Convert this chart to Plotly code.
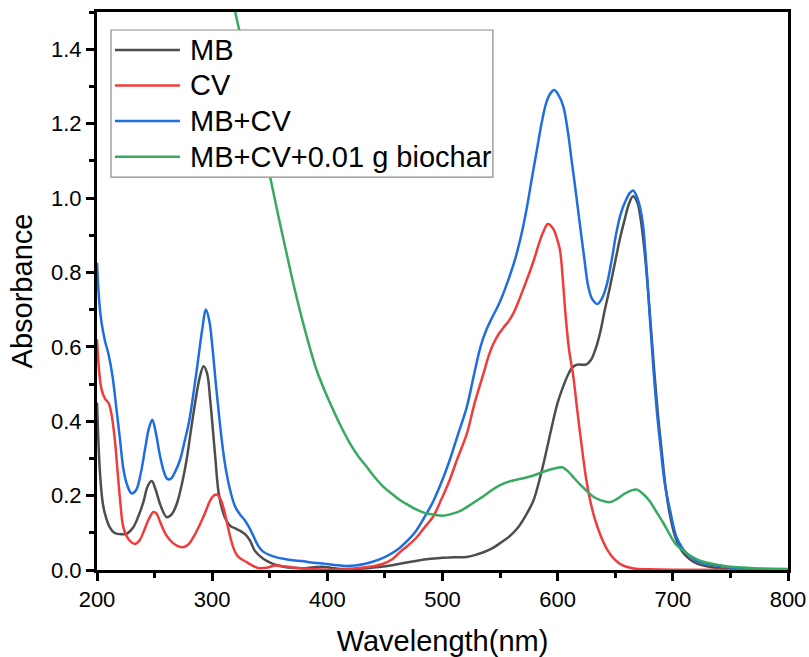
import plotly.graph_objects as go

# UV-Vis absorbance spectra (wavelength in nm, absorbance a.u.)
mb_wl = [200, 202.6, 205, 207, 211, 215, 221, 226, 231.5, 236, 240.5, 244, 247.5, 251, 255,
         260.5, 265, 269.5, 274, 278, 282, 285.5, 289, 292.5, 295.5, 298.5, 302.5, 305.5,
         308.5, 312, 316, 320, 324, 329, 333, 337, 342, 347, 354, 362, 370, 380, 390, 396,
         403, 413, 425, 435, 445, 455, 465, 478, 490, 500, 510, 521, 528, 535, 543, 550, 558,
         565, 572, 579, 584, 588, 592, 596, 600, 605, 609, 613, 617, 621, 625, 629, 633, 637,
         641, 645, 650, 654, 658, 662, 665.5, 669, 672, 675, 678, 681, 684, 687, 690, 694,
         698, 702, 707, 712, 718, 725, 733, 742, 755, 770, 800]
mb_abs = [0.45, 0.26, 0.18, 0.15, 0.115, 0.10, 0.096, 0.098, 0.115, 0.145, 0.185, 0.225, 0.239,
          0.215, 0.175, 0.142, 0.15, 0.18, 0.235, 0.30, 0.385, 0.455, 0.515, 0.548, 0.53, 0.45,
          0.31, 0.21, 0.165, 0.135, 0.118, 0.112, 0.106, 0.095, 0.078, 0.052, 0.036, 0.025,
          0.015, 0.009, 0.006, 0.005, 0.008, 0.009, 0.006, 0.003, 0.003, 0.005, 0.008, 0.012,
          0.018, 0.025, 0.03, 0.033, 0.034, 0.035, 0.04, 0.047, 0.058, 0.072, 0.09, 0.112,
          0.145, 0.187, 0.24, 0.29, 0.345, 0.40, 0.45, 0.495, 0.525, 0.545, 0.552, 0.552,
          0.553, 0.565, 0.595, 0.64, 0.70, 0.755, 0.83, 0.89, 0.94, 0.985, 1.005, 0.99, 0.945,
          0.87, 0.77, 0.65, 0.53, 0.42, 0.33, 0.215, 0.14, 0.09, 0.055, 0.036, 0.022, 0.013,
          0.008, 0.004, 0.002, 0.001, 0.0]

cv_wl = [200, 202, 204, 207, 210, 212.5, 215.5, 218, 220, 222.5, 225, 229, 233, 237, 241, 245,
         249, 251.5, 255, 259, 263.5, 268, 274, 279, 284, 289, 294, 298, 301.5, 304, 307, 310,
         313, 316, 319, 322, 326, 330, 335, 341, 347, 355, 362, 370, 380, 390, 400, 416, 430,
         440, 448, 456, 463, 470, 477, 484, 492, 499, 506, 513, 521, 528, 535.5, 540, 544, 549,
         553, 557, 561.5, 566, 571, 575, 579, 583, 587, 591.5, 596, 599, 602, 604.5, 607,
         610, 613.6, 617, 621, 624.5, 628, 632, 637, 643, 649, 656, 666, 680, 700, 800]
cv_abs = [0.62, 0.53, 0.485, 0.46, 0.449, 0.42, 0.35, 0.26, 0.19, 0.12, 0.095, 0.077, 0.07,
          0.08, 0.107, 0.137, 0.156, 0.152, 0.128, 0.1, 0.08, 0.068, 0.061, 0.068, 0.09, 0.12,
          0.155, 0.185, 0.2, 0.203, 0.192, 0.165, 0.125, 0.085, 0.055, 0.038, 0.028, 0.021,
          0.012, 0.005, 0.006, 0.012, 0.01, 0.007, 0.004, 0.002, 0.001, 0.002, 0.006, 0.01,
          0.016, 0.028, 0.048, 0.066, 0.086, 0.113, 0.144, 0.19, 0.24, 0.30, 0.365, 0.45,
          0.527, 0.575, 0.607, 0.635, 0.652, 0.667, 0.69, 0.722, 0.762, 0.795, 0.83, 0.87,
          0.905, 0.93, 0.918, 0.895, 0.86, 0.78, 0.68, 0.59, 0.52, 0.43, 0.33, 0.25, 0.19,
          0.14, 0.095, 0.055, 0.03, 0.013, 0.004, 0.002, 0.001, 0.0]

mix_wl = [200, 202, 204, 207, 210, 213.5, 217, 220, 223, 226, 230, 234, 238, 242, 245, 248,
          251, 254.5, 258, 261, 264, 268, 272, 276, 280, 284, 288, 291.5, 294.5, 297.5, 300.5,
          303.5, 306.5, 309.5, 312.5, 316, 320, 324, 328, 332, 336, 340, 344, 350, 356, 362,
          370, 378, 386, 394, 400, 408, 416, 424, 432, 440, 448, 456, 463, 470, 477, 484, 492,
          499, 506, 513, 521, 527, 533, 538, 543, 549, 556, 563, 568, 573, 578, 582, 586, 590,
          593.5, 597, 601, 605, 609, 612, 616, 619.5, 623, 626.5, 630, 634.5, 638.5, 642.5,
          647, 651, 655, 659.5, 662.5, 665.5, 668.5, 671.5, 674, 677, 680, 683, 686, 689, 693,
          697.5, 703, 708, 712, 718, 723, 730, 738, 750, 765, 780, 800]
mix_abs = [0.826, 0.72, 0.664, 0.615, 0.58, 0.52, 0.43, 0.35, 0.27, 0.23, 0.206, 0.215, 0.26,
           0.33, 0.38, 0.404, 0.37, 0.31, 0.265, 0.245, 0.245, 0.265, 0.295, 0.345, 0.40,
           0.48, 0.57, 0.65, 0.70, 0.67, 0.59, 0.49, 0.40, 0.32, 0.26, 0.21, 0.17, 0.15, 0.135,
           0.115, 0.09, 0.065, 0.05, 0.04, 0.034, 0.03, 0.026, 0.024, 0.02, 0.018, 0.016,
           0.013, 0.011, 0.012, 0.016, 0.023, 0.032, 0.045, 0.06, 0.08, 0.105, 0.14, 0.185,
           0.235, 0.293, 0.36, 0.437, 0.52, 0.60, 0.645, 0.678, 0.715, 0.77, 0.835, 0.895, 0.97,
           1.06, 1.13, 1.20, 1.255, 1.28, 1.29, 1.275, 1.245, 1.175, 1.104, 1.01, 0.924, 0.84,
           0.763, 0.728, 0.715, 0.73, 0.765, 0.835, 0.907, 0.96, 0.996, 1.013, 1.02, 1.005,
           0.975, 0.93, 0.82, 0.68, 0.547, 0.431, 0.34, 0.233, 0.162, 0.09, 0.06, 0.045, 0.03,
           0.022, 0.016, 0.012, 0.007, 0.004, 0.002, 0.001]

bio_wl = [310, 315, 320, 325, 330, 336, 343, 350, 357, 364.5, 372, 380.5, 390.5, 398, 405,
          412, 419.5, 427, 434, 441, 448.5, 456, 463, 470, 477.5, 485, 492, 500, 507, 515, 525,
          535.5, 543, 550, 557, 564.5, 572, 579, 586, 593.5, 600, 604, 609, 614, 620, 625.5,
          631, 637, 645, 651, 658, 664, 669, 674, 680, 686, 692, 697, 703, 712, 720, 729, 741,
          753, 770, 800]
bio_abs = [1.65, 1.575, 1.50, 1.43, 1.355, 1.27, 1.165, 1.062, 0.958, 0.853, 0.75, 0.646,
           0.539, 0.48, 0.431, 0.385, 0.341, 0.305, 0.278, 0.25, 0.224, 0.205, 0.188, 0.175,
           0.162, 0.153, 0.149, 0.146, 0.15, 0.158, 0.177, 0.198, 0.215, 0.228, 0.237, 0.243,
           0.248, 0.254, 0.262, 0.27, 0.275, 0.276, 0.265, 0.248, 0.228, 0.212, 0.197, 0.188,
           0.182, 0.19, 0.205, 0.214, 0.216, 0.205, 0.185, 0.155, 0.125, 0.097, 0.068, 0.045,
           0.03, 0.02, 0.013, 0.008, 0.005, 0.003]

series_names = ["MB", "CV", "MB+CV", "MB+CV+0.01 g biochar"]
series_colors = ["#4d4d4d", "#f03c3c", "#1f6ee0", "#38a960"]
series_data = [(mb_wl, mb_abs), (cv_wl, cv_abs), (mix_wl, mix_abs), (bio_wl, bio_abs)]

FONT = "Liberation Sans, Arial, sans-serif"

fig = go.Figure()
for name, color, (wl, ab) in zip(series_names, series_colors, series_data):
    fig.add_trace(go.Scatter(
        x=wl, y=ab, name=name, mode="lines",
        line=dict(color=color, width=2.5, shape="spline", smoothing=1.0),
        showlegend=False,
    ))

# Boxed legend drawn on top of the curves (opaque white background)
leg_x0, leg_x1 = 0.0203, 0.573
leg_y0, leg_y1 = 0.704, 0.9677
entry_y = [0.9319, 0.8683, 0.8047, 0.7407]
shapes = [dict(type="rect", xref="paper", yref="paper", x0=leg_x0, x1=leg_x1,
               y0=leg_y0, y1=leg_y1, fillcolor="white",
               line=dict(color="#8c8c8c", width=1.2), layer="above")]
annotations = []
for name, color, yy in zip(series_names, series_colors, entry_y):
    shapes.append(dict(type="line", xref="paper", yref="paper", x0=0.026, x1=0.120,
                       y0=yy, y1=yy, line=dict(color=color, width=2.5), layer="above"))
    annotations.append(dict(xref="paper", yref="paper", x=0.131, y=yy, text=name,
                            showarrow=False, xanchor="left", yanchor="middle",
                            font=dict(family=FONT, size=29, color="black")))

fig.update_layout(
    width=809, height=657,
    margin=dict(l=97, r=21, t=12, b=87),
    paper_bgcolor="white", plot_bgcolor="white",
    font=dict(family=FONT, color="black"),
    shapes=shapes, annotations=annotations,
)
fig.update_xaxes(
    range=[200, 800], tickvals=[200, 300, 400, 500, 600, 700, 800],
    ticks="outside", ticklen=8, tickwidth=2.5, tickcolor="black",
    minor=dict(dtick=50, ticks="outside", ticklen=5, tickwidth=2.5, tickcolor="black"),
    showline=True, linewidth=3, linecolor="black", mirror=True,
    showgrid=False, zeroline=False, automargin=False,
    tickfont=dict(family=FONT, size=22, color="black"),
    title=dict(text="Wavelength(nm)", font=dict(family=FONT, size=29), standoff=20),
)
fig.update_yaxes(
    range=[0, 1.5], tickvals=[0, 0.2, 0.4, 0.6, 0.8, 1.0, 1.2, 1.4], tickformat=".1f",
    ticks="outside", ticklen=8, tickwidth=2.5, tickcolor="black",
    minor=dict(dtick=0.1, ticks="outside", ticklen=5, tickwidth=2.5, tickcolor="black"),
    showline=True, linewidth=3, linecolor="black", mirror=True,
    showgrid=False, zeroline=False, automargin=False,
    tickfont=dict(family=FONT, size=22, color="black"),
    title=dict(text="Absorbance", font=dict(family=FONT, size=29), standoff=10),
)

fig.write_html("out.html")
